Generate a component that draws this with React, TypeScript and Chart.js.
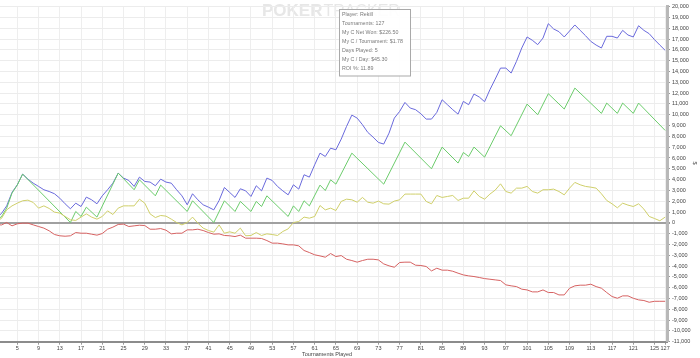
import React, { useEffect, useRef } from "react";
import { Chart, registerables } from "chart.js";

Chart.register(...registerables);

// ---------- data ----------
const tournaments: number[] = Array.from({ length: 127 }, (_, i) => i + 1);

const netWon: number[] = [
  500, 850, 1570, 2810, 3520, 4510, 4040, 3670, 3370, 3060,
  2900, 2690, 2280, 1760, 1300, 1820, 1510, 2380, 2130, 1760,
  2500, 3060, 3670, 4600, 4140, 3920, 3370, 4230, 3830, 3770,
  3430, 4040, 3770, 3670, 3060, 2500, 1670, 2690, 2130, 1670,
  1450, 1200, 2070, 3270, 2810, 2350, 3150, 2960, 2440, 3430,
  2960, 4140, 3920, 3370, 2960, 2590, 3520, 3120, 4450, 4230,
  5370, 6450, 6140, 6910, 6760, 7750, 8920, 9970, 9690, 9080,
  8370, 7930, 7440, 7290, 8300, 9690, 10310, 11140, 10620, 10470,
  10090, 9600, 9600, 10220, 11390, 10930, 10470, 10060, 11240, 10930,
  11920, 11640, 11210, 12320, 13300, 14320, 14320, 13860, 14940, 16180,
  17200, 16890, 16490, 17100, 18430, 17940, 17690, 17200, 17750, 18310,
  17810, 17320, 16790, 16450, 16180, 17260, 17260, 17100, 17810, 17380,
  17200, 18240, 17810, 17500, 16950, 16450, 15960,
];

const greenRounds: number[] = [
  1, 2, 3, 4, 5, 6, 15, 16, 17, 18, 20, 24, 27, 28, 31, 32, 37, 38, 42, 44,
  46, 47, 49, 50, 51, 52, 56, 57, 58, 59, 60, 62, 63, 64, 65, 68, 74, 78, 83, 85,
  88, 89, 90, 91, 93, 96, 98, 101, 103, 105, 108, 110, 115, 116, 118, 119, 121, 122, 127,
];
const greenValues: number[] = [
  300, 550, 1360, 2750, 3500, 4510, 30, 1050, 590, 1450, 530, 4600, 3060, 3980, 2500, 3490, 1050, 2040, 30, 2040,
  1050, 1980, 1050, 1980, 1510, 2500, 590, 1570, 1050, 2040, 1570, 3490, 2990, 3980, 3580, 6450, 3580, 7470, 5000, 7010,
  5530, 6510, 6140, 7010, 6080, 8980, 8060, 10990, 10000, 11950, 10530, 12470, 10130, 11080, 10130, 11080, 10130, 11080, 8550,
];

const yellowSeries: number[] = [
  150, 400, 1200, 1570, 1820, 2040, 2100, 1880, 1360, 1570,
  1330, 990, 900, 590, 280, 220, 530, 830, 530, 340,
  590, 1110, 770, 1360, 1570, 1570, 1570, 2190, 1820, 830,
  490, 680, 620, 340, 30, -190, 30, 530, -30, -490,
  -710, -860, -190, -960, -830, -960, -490, -1200, -1170, -900,
  -1170, -1020, -1080, -1170, -800, -560, 30, 120, 530, 430,
  590, 1600, 1200, 1360, 1140, 1980, 2190, 2130, 1910, 2350,
  1910, 1820, 2010, 1760, 1730, 2010, 2130, 2660, 2660, 2660,
  2660, 1980, 1760, 2530, 2350, 2440, 2530, 2070, 2280, 2280,
  2960, 2440, 2190, 2660, 3030, 3610, 2900, 2750, 3210, 3210,
  3370, 2900, 2750, 3060, 3060, 3120, 2900, 2590, 3210, 3740,
  3520, 3370, 3300, 3210, 2690, 2070, 1760, 1390, 1820, 1640,
  1510, 1760, 1270, 590, 400, 190, 530,
];

const redSeries: number[] = [
  -150, -200, 30, -280, -90, -30, -30, -190, -340, -490,
  -740, -1080, -1200, -1240, -1200, -900, -960, -960, -1050, -1140,
  -990, -590, -400, -150, -120, -340, -280, -220, -250, -590,
  -590, -530, -680, -1020, -960, -960, -650, -650, -590, -710,
  -900, -1050, -1020, -1170, -1200, -1270, -1140, -1420, -1420, -1420,
  -1450, -1640, -1880, -1880, -1950, -2040, -2040, -2130, -2560, -2750,
  -2960, -3060, -3180, -2840, -3120, -3030, -3370, -3490, -3640, -3490,
  -3370, -3370, -3430, -3800, -3980, -4110, -3670, -3640, -3640, -3920,
  -3950, -4040, -4450, -4200, -4380, -4380, -4480, -4660, -4820, -4910,
  -4970, -5060, -5160, -5220, -5280, -5340, -5740, -5830, -5900, -6140,
  -6210, -6390, -6390, -6210, -6450, -6450, -6670, -6670, -6050, -5830,
  -5770, -5770, -5680, -5900, -6050, -6450, -6820, -6980, -6760, -6760,
  -6980, -7130, -7190, -7350, -7260, -7260, -7260,
];

const xTickValues: number[] = [
  5, 9, 13, 17, 21, 25, 29, 33, 37, 41, 45, 49, 53, 57, 61, 65, 69, 73, 77, 81,
  85, 89, 93, 97, 101, 105, 109, 113, 117, 121, 125, 127,
];

const yMin = -11000;
const yMax = 20000;
const yStep = 1000;

const xTitle = "Tournaments Played";
const yTitle = "$";
const infoLines: string[] = [
  "Player: Rekill",
  "Tournaments: 127",
  "My C Net Won: $226.50",
  "My C / Tournament: $1.78",
  "Days Played: 5",
  "My C / Day: $45.30",
  "ROI %: 11.89",
];

const FONT = "'Liberation Sans', Arial, sans-serif";

export default function App() {
  const ref = useRef<HTMLCanvasElement | null>(null);

  useEffect(() => {
    document.body.style.margin = "0";
    const canvas = ref.current;
    if (!canvas) return;

    const overlay = {
      id: "overlay",
      beforeDraw(chart: any) {
        const ctx = chart.ctx;
        ctx.save();
        ctx.fillStyle = "#e7e7e7";
        ctx.textBaseline = "alphabetic";
        ctx.textAlign = "left";
        ctx.font = `bold 17px ${FONT}`;
        ctx.fillText("POKER", 262, 16);
        const w = ctx.measureText("POKER").width;
        ctx.font = `16px ${FONT}`;
        ctx.fillText("TRACKER", 262 + w + 1, 16);
        ctx.restore();
      },
      afterDraw(chart: any) {
        const ctx = chart.ctx;
        ctx.save();
        // info box
        ctx.fillStyle = "rgba(255,255,255,0.92)";
        ctx.fillRect(339.5, 9.5, 71, 66.5);
        ctx.strokeStyle = "#a9a9a9";
        ctx.lineWidth = 1;
        ctx.strokeRect(339.5, 9.5, 71, 66.5);
        ctx.fillStyle = "#7a7a7a";
        ctx.font = `5.3px ${FONT}`;
        ctx.textAlign = "left";
        ctx.textBaseline = "middle";
        infoLines.forEach((line, i) => {
          ctx.fillText(line, 342, 15 + i * 8.95);
        });
        // axis titles
        ctx.fillStyle = "#444";
        ctx.font = `5.5px ${FONT}`;
        ctx.textAlign = "center";
        ctx.fillText(xTitle, 327, 354.3);
        ctx.translate(695, 163);
        ctx.rotate(Math.PI / 2);
        ctx.fillText(yTitle, 0, 0);
        ctx.restore();
      },
    };

    const lineDs = (label: string, xs: number[], ys: number[], color: string) => ({
      label,
      data: xs.map((x, i) => ({ x, y: ys[i] })),
      borderColor: color,
      backgroundColor: color,
      borderWidth: 1,
      pointRadius: 0,
      tension: 0,
      fill: false,
    });

    const chart = new Chart(canvas, {
      type: "line",
      data: {
        datasets: [
          lineDs("red", tournaments, redSeries, "#d66262"),
          lineDs("yellow", tournaments, yellowSeries, "#cfcf6a"),
          lineDs("green", greenRounds, greenValues, "#6ccc6c"),
          lineDs("net won", tournaments, netWon, "#6a6adc"),
        ],
      },
      options: {
        responsive: false,
        animation: false,
        devicePixelRatio: 1,
        layout: { padding: { top: 6.7, left: 0, right: 0, bottom: 0 } },
        plugins: {
          legend: { display: false },
          tooltip: { enabled: false },
          title: { display: false },
        },
        scales: {
          x: {
            type: "linear",
            position: "bottom",
            min: 1.74,
            max: 127.35,
            afterBuildTicks: (s: any) => {
              s.ticks = xTickValues.map((v) => ({ value: v }));
            },
            afterFit: (s: any) => {
              s.height = 16.3;
            },
            ticks: {
              autoSkip: false,
              maxRotation: 0,
              minRotation: 0,
              padding: 0,
              color: "#444",
              font: { size: 5.5, family: FONT },
              callback: (v: any) => String(v),
            },
            grid: {
              color: "#eeeeee",
              lineWidth: 1,
              tickLength: 3,
              tickColor: "#999",
            },
            border: { color: "#8c8c8c", width: 2 },
          },
          y: {
            type: "linear",
            position: "right",
            min: yMin,
            max: yMax,
            afterFit: (s: any) => {
              s.width = 33;
            },
            ticks: {
              stepSize: yStep,
              padding: 2,
              color: "#444",
              font: { size: 5.5, family: FONT },
              callback: (v: any) => Number(v).toLocaleString("en-US"),
            },
            grid: {
              color: (c: any) => (c.tick && c.tick.value === 0 ? "#a0a0a0" : "#ececec"),
              lineWidth: (c: any) => (c.tick && c.tick.value === 0 ? 2 : 1),
              tickLength: 3,
              tickColor: "#999",
            },
            border: { color: "#b8b8b8", width: 3 },
          },
        },
      } as any,
      plugins: [overlay],
    });

    return () => chart.destroy();
  }, []);

  return (
    <div style={{ position: "absolute", left: 0, top: 0, width: 700, height: 358 }}>
      <canvas ref={ref} width={700} height={358} style={{ display: "block", width: 700, height: 358 }} />
    </div>
  );
}
